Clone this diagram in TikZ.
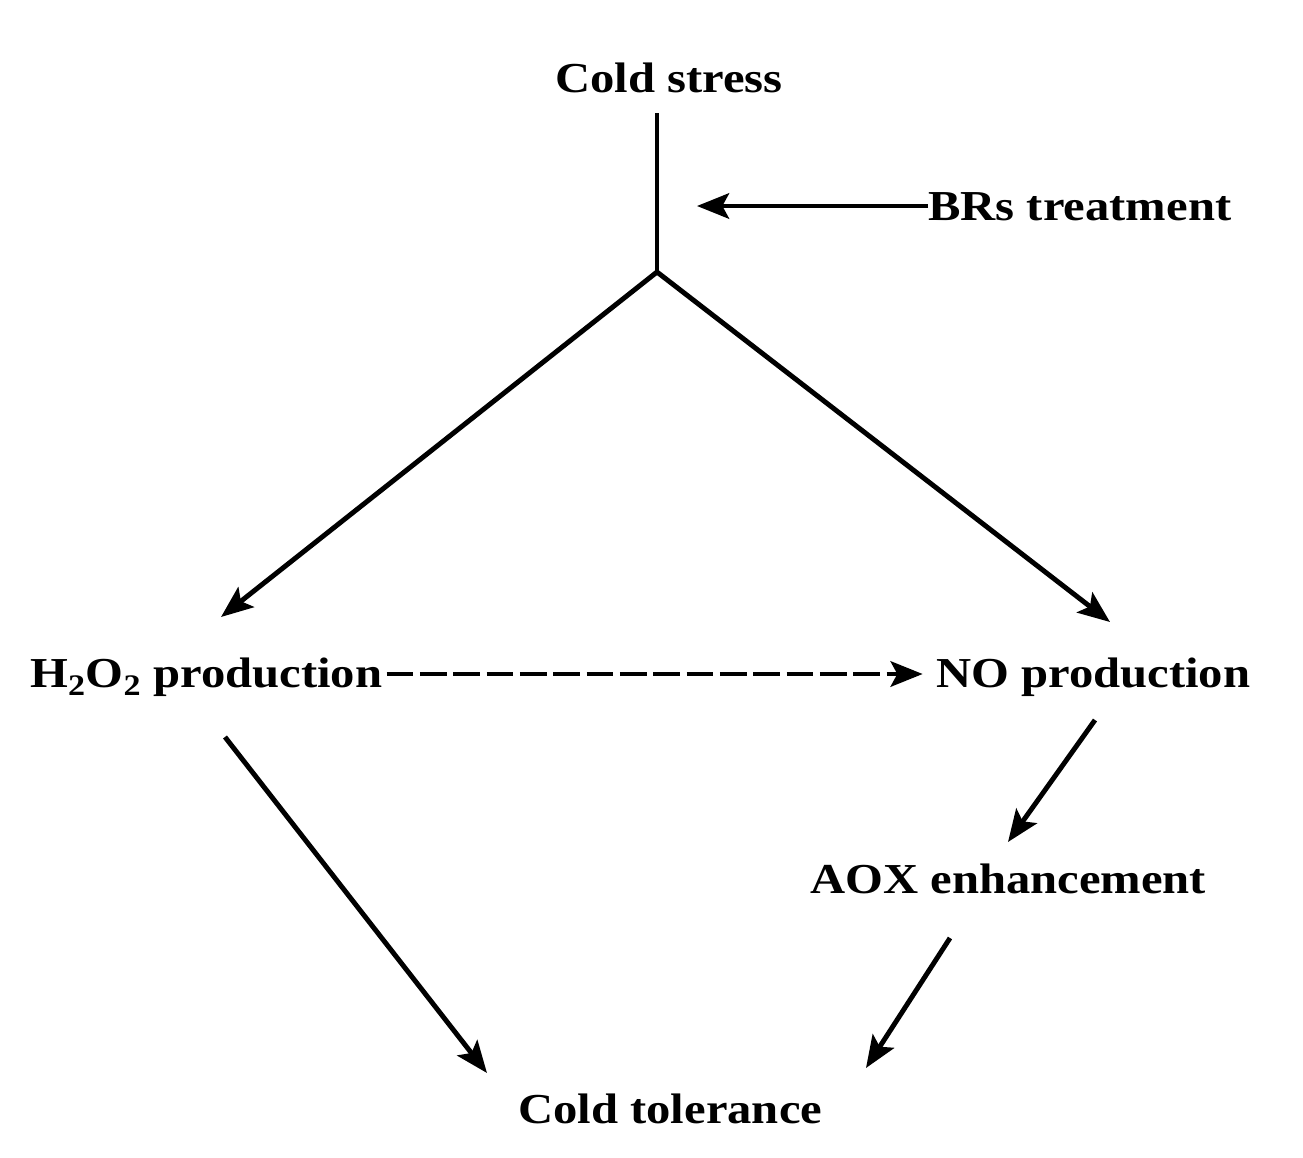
\documentclass[tikz,border=0pt]{standalone}
\usepackage{fontspec}
\setmainfont[FakeStretch=1.14]{Liberation Serif}
\usetikzlibrary{arrows.meta}
\begin{document}
\begin{tikzpicture}[x=0.75pt,y=-0.75pt,
  lbl/.style={anchor=base west,inner sep=0pt,font=\fontsize{32pt}{38pt}\selectfont\bfseries},
  ln/.style={line width=3.7pt},
  arr/.style={line width=3.7pt,-{Stealth[length=24pt,width=19pt,inset=5pt]}}]
\useasboundingbox[fill=white] (0,0) rectangle (1303,1157);
\node[lbl] (cs) at (555,92) {Cold stress};
\node[lbl] (brs) at (928,220) {BRs treatment};
\node[lbl] (h2o2) at (30,687) {H\textsubscript{2}O\textsubscript{2} production};
\node[lbl] (no) at (936,687) {NO production};
\node[lbl] (aox) at (810,893) {AOX enhancement};
\node[lbl] (ct) at (518,1123) {Cold tolerance};
\coordinate (top) at (657,113);
\coordinate (junc) at (657,272);
\coordinate (brstip) at (697,206);
\coordinate (dashy) at (0,674);
\coordinate (h2o2top) at (221,617);
\coordinate (notop) at (1110,622);
\coordinate (h2o2bot) at (225,737);
\coordinate (ctl) at (487,1073);
\coordinate (nobot) at (1095,720);
\coordinate (aoxtop) at (1008,842);
\coordinate (aoxbot) at (950,938);
\coordinate (ctr) at (866,1068);
\draw[ln,line join=miter] (top) -- (junc);
\draw[arr] (brs.west|-brstip) -- (brstip);
\draw[arr] (junc) -- (h2o2top);
\draw[arr] (junc) -- (notop);
\draw[arr,dash pattern=on 20pt off 5pt] ([xshift=3pt]h2o2.east|-dashy) -- ([xshift=-10pt]no.west|-dashy);
\draw[arr] (h2o2bot) -- (ctl);
\draw[arr] (nobot) -- (aoxtop);
\draw[arr] (aoxbot) -- (ctr);
\end{tikzpicture}
\end{document}
